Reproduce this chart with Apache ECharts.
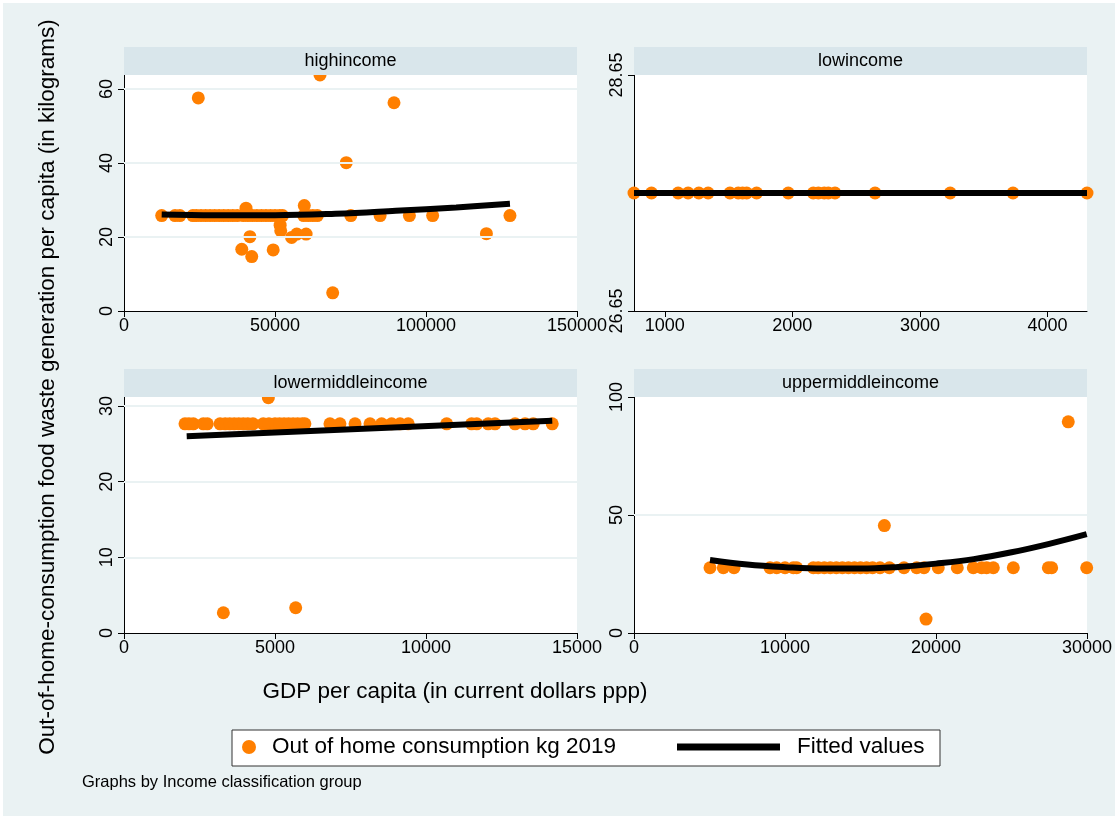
<!DOCTYPE html>
<html>
<head>
<meta charset="utf-8">
<script src="https://cdn.jsdelivr.net/npm/echarts@6/dist/echarts.min.js"></script>
<style>
  html, body { margin: 0; padding: 0; background: #ffffff; }
  #chart { width: 1118px; height: 819px; }
</style>
</head>
<body>
<div id="chart"></div>
<script>
// Panel names (income groups)
const panelNames = ['highincome', 'lowincome', 'lowermiddleincome', 'uppermiddleincome'];

// High income: GDP per capita (ppp) and out-of-home food waste (kg)
const hiGdp = [12480, 16900, 18500, 22800, 24000, 25500, 27000, 28500, 30000, 31500, 33000, 34500, 36000, 37500,
  39500, 41000, 42500, 44000, 45500, 47000, 48500, 50000, 51500, 52500, 59500, 61000, 62500, 64000,
  75100, 84800, 94500, 102200, 127800,
  40400, 41700, 39000, 42300, 49400, 51700, 51900, 55500, 57200, 60300, 59700, 64900, 24600, 89400, 73600, 69100, 120000];
const hiKg = [25.8, 25.8, 25.8, 25.8, 25.8, 25.8, 25.8, 25.8, 25.8, 25.8, 25.8, 25.8, 25.8, 25.8,
  25.8, 25.8, 25.8, 25.8, 25.8, 25.8, 25.8, 25.8, 25.8, 25.8, 25.8, 25.8, 25.8, 25.8,
  25.8, 25.8, 25.8, 25.8, 25.8,
  27.8, 20.1, 16.7, 14.7, 16.5, 23.2, 21.7, 19.9, 20.8, 20.8, 28.5, 63.8, 57.6, 56.3, 40.1, 4.9, 20.9];
const hiFitGdp = [12480, 30000, 50000, 70000, 90000, 110000, 127800];
const hiFitKg = [26.1, 25.9, 25.9, 26.3, 27.1, 28.0, 29.0];

// Low income
const loGdp = [759, 896, 1105, 1183, 1267, 1340, 1511, 1576, 1610, 1642, 1720, 1968, 2164, 2204, 2250, 2282, 2334, 2648, 3237, 3729, 4309];
const loKg = [27.65, 27.65, 27.65, 27.65, 27.65, 27.65, 27.65, 27.65, 27.65, 27.65, 27.65, 27.65, 27.65, 27.65, 27.65, 27.65, 27.65, 27.65, 27.65, 27.65, 27.65];
const loFitGdp = [759, 4309];
const loFitKg = [27.65, 27.65];

// Lower middle income
const lmGdp = [2020, 2150, 2295, 2626, 2758, 3180, 3350, 3500, 3650, 3800, 3950, 4100, 4270, 4610, 4800, 5000, 5150,
  5300, 5450, 5600, 5750, 5900, 5990, 6820, 7150, 7650, 8146, 8530, 8860, 9140, 9410, 10685, 11510, 11680,
  12060, 12285, 12950, 13280, 13550, 14180,
  4780, 3290, 5685];
const lmKg = [27.65, 27.65, 27.65, 27.65, 27.65, 27.65, 27.65, 27.65, 27.65, 27.65, 27.65, 27.65, 27.65, 27.65, 27.65, 27.65, 27.65,
  27.65, 27.65, 27.65, 27.65, 27.65, 27.65, 27.65, 27.65, 27.65, 27.65, 27.65, 27.65, 27.65, 27.65, 27.65, 27.65, 27.65,
  27.65, 27.65, 27.65, 27.65, 27.65, 27.65,
  31.1, 2.68, 3.34];
const lmFitGdp = [2076, 14180];
const lmFitKg = [26.0, 28.05];

// Upper middle income
const umGdp = [5033, 5916, 6623, 9007, 9450, 10000, 10550, 10773, 11874, 12200, 12600, 13000, 13400, 13800, 14200,
  14600, 15000, 15400, 15800, 16291, 16910, 17880, 18720, 19205, 20150, 21410, 22470, 23020, 23355, 23795,
  25120, 27440, 27660, 29980,
  28760, 16580, 19340];
const umKg = [27.65, 27.65, 27.65, 27.65, 27.65, 27.65, 27.65, 27.65, 27.65, 27.65, 27.65, 27.65, 27.65, 27.65, 27.65,
  27.65, 27.65, 27.65, 27.65, 27.65, 27.65, 27.65, 27.65, 27.65, 27.65, 27.65, 27.65, 27.65, 27.65, 27.65,
  27.65, 27.65, 27.65, 27.65,
  89.5, 45.5, 5.9];
const umFitGdp = [5033, 7500, 10000, 12500, 15000, 17500, 20000, 22500, 25000, 27500, 29980];
const umFitKg = [30.9, 29.0, 27.9, 27.3, 27.3, 28.0, 29.4, 31.3, 34.2, 37.8, 41.9];

// Axis tick values for each panel
const xTicks = [[0, 50000, 100000, 150000], [1000, 2000, 3000, 4000], [0, 5000, 10000, 15000], [0, 10000, 20000, 30000]];
const yTicks = [[0, 20, 40, 60], [26.65, 28.65], [0, 10, 20, 30], [0, 50, 100]];
const xRange = [[0, 150000], [759, 4309], [0, 15000], [0, 30000]];
const yRange = [[0, 63.8], [26.65, 28.65], [0, 31.2], [0, 100]];

const legendNames = ['Out of home consumption kg 2019', 'Fitted values'];
const xTitle = 'GDP per capita (in current dollars ppp)';
const yTitle = 'Out-of-home-consumption food waste generation per capita (in kilograms)';
const note = 'Graphs by Income classification group';

const ORANGE = '#ff7f00';
const BG = '#eaf2f3';
const STRIP = '#d9e6eb';
const FONT = 'Liberation Sans, Arial, sans-serif';

const pairs = (xs, ys) => xs.map((x, i) => [x, ys[i]]);
const scatterSets = [pairs(hiGdp, hiKg), pairs(loGdp, loKg), pairs(lmGdp, lmKg), pairs(umGdp, umKg)];
const fitSets = [pairs(hiFitGdp, hiFitKg), pairs(loFitGdp, loFitKg), pairs(lmFitGdp, lmFitKg), pairs(umFitGdp, umFitKg)];

// Panel frames in pixels
const grids = [
  { left: 124, top: 75, width: 453, height: 236 },
  { left: 634, top: 75, width: 453, height: 236 },
  { left: 124, top: 397, width: 453, height: 236 },
  { left: 634, top: 397, width: 453, height: 236 }
];

const chart = echarts.init(document.getElementById('chart'), null, { renderer: 'canvas' });

const xAxes = grids.map((g, i) => ({
  type: 'value', gridIndex: i, min: xRange[i][0], max: xRange[i][1],
  axisLine: { show: true, lineStyle: { color: '#000', width: 1 } },
  axisTick: { show: true, length: 6, lineStyle: { color: '#000' }, customValues: xTicks[i] },
  axisLabel: { customValues: xTicks[i], color: '#000', fontSize: 18, fontFamily: FONT, margin: 6,
    formatter: v => String(v) },
  splitLine: { show: false }
}));

const yAxes = grids.map((g, i) => ({
  type: 'value', gridIndex: i, min: yRange[i][0], max: yRange[i][1],
  axisLine: { show: true, lineStyle: { color: '#000', width: 1 } },
  axisTick: { show: true, length: 6, lineStyle: { color: '#000' }, customValues: yTicks[i] },
  axisLabel: { customValues: yTicks[i], color: '#000', fontSize: 18, fontFamily: FONT, margin: 8, rotate: 90,
    formatter: v => (i === 1 ? v.toFixed(2) : String(v)) },
  splitLine: { show: false }
}));

const series = [];
grids.forEach((g, i) => {
  series.push({
    type: 'scatter', xAxisIndex: i, yAxisIndex: i, data: scatterSets[i],
    symbol: 'circle', symbolSize: 13, itemStyle: { color: ORANGE, opacity: 1 },
    clip: false, z: 3, silent: true
  });
  series.push({
    type: 'line', xAxisIndex: i, yAxisIndex: i, data: fitSets[i],
    smooth: 0.4, showSymbol: false, lineStyle: { color: '#000', width: 6 }, z: 4, silent: true
  });
  // light gridlines at interior tick values
  const inner = yTicks[i].filter(v => v > yRange[i][0] && v < yRange[i][1]);
  if (inner.length) {
    series.push({
      type: 'line', xAxisIndex: i, yAxisIndex: i, data: [], silent: true, z: 1,
      markLine: {
        symbol: 'none', silent: true, label: { show: false },
        lineStyle: { color: BG, width: 2, type: 'solid' },
        data: inner.map(v => ({ yAxis: v }))
      }
    });
  }
});

const graphics = [
  { type: 'rect', shape: { x: 3, y: 3, width: 1112, height: 813 }, style: { fill: BG }, z: -100, silent: true }
];
grids.forEach((g, i) => {
  graphics.push({ type: 'rect', shape: { x: g.left, y: g.top - 28, width: g.width, height: 28 },
    style: { fill: STRIP }, z: 100, silent: true });
  graphics.push({ type: 'text', x: g.left + g.width / 2, y: g.top - 14, z: 101, silent: true,
    style: { text: panelNames[i], fill: '#000', font: '18px ' + FONT, textAlign: 'center', textVerticalAlign: 'middle' } });
});
// axis titles
graphics.push({ type: 'text', x: 48, y: 387, rotation: Math.PI / 2, z: 101, silent: true,
  style: { text: yTitle, fill: '#000', font: '22.5px ' + FONT, textAlign: 'center', textVerticalAlign: 'middle' } });
graphics.push({ type: 'text', x: 455, y: 692, z: 101, silent: true,
  style: { text: xTitle, fill: '#000', font: '22.5px ' + FONT, textAlign: 'center', textVerticalAlign: 'middle' } });
// legend
graphics.push({ type: 'rect', shape: { x: 232, y: 730, width: 708, height: 36 },
  style: { fill: '#fff', stroke: '#333', lineWidth: 1 }, z: 100, silent: true });
graphics.push({ type: 'circle', shape: { cx: 249, cy: 747, r: 7 }, style: { fill: ORANGE }, z: 101, silent: true });
graphics.push({ type: 'text', x: 272, y: 747, z: 101, silent: true,
  style: { text: legendNames[0], fill: '#000', font: '22.5px ' + FONT, textVerticalAlign: 'middle' } });
graphics.push({ type: 'line', shape: { x1: 677, y1: 747, x2: 780, y2: 747 },
  style: { stroke: '#000', lineWidth: 7 }, z: 101, silent: true });
graphics.push({ type: 'text', x: 797, y: 747, z: 101, silent: true,
  style: { text: legendNames[1], fill: '#000', font: '22.5px ' + FONT, textVerticalAlign: 'middle' } });
graphics.push({ type: 'text', x: 82, y: 782, z: 101, silent: true,
  style: { text: note, fill: '#000', font: '16.5px ' + FONT, textVerticalAlign: 'middle' } });

chart.setOption({
  animation: false,
  backgroundColor: '#ffffff',
  grid: grids.map(g => Object.assign({ show: true, backgroundColor: '#ffffff', borderWidth: 0 }, g)),
  xAxis: xAxes,
  yAxis: yAxes,
  series: series,
  graphic: graphics
});
</script>
</body>
</html>
